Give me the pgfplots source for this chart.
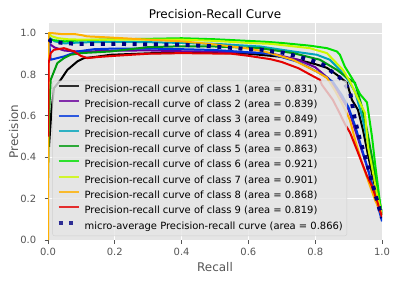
\documentclass[border=0pt]{standalone}
\usepackage{fontspec}
\setmainfont{DejaVu Sans}
\usepackage{pgfplots}
\pgfplotsset{compat=1.18}
\definecolor{bg}{HTML}{E5E5E5}
\definecolor{tickc}{HTML}{555555}
\definecolor{legedge}{HTML}{CCCCCC}
\definecolor{c1}{rgb}{0,0,0}
\definecolor{c2}{rgb}{0.415,0,0.615}
\definecolor{c3}{rgb}{0,0.207,0.8667}
\definecolor{c4}{rgb}{0,0.644,0.733}
\definecolor{c5}{rgb}{0,0.607,0.059}
\definecolor{c6}{rgb}{0,0.881,0}
\definecolor{c7}{rgb}{0.8,0.978,0}
\definecolor{c8}{rgb}{1,0.689,0}
\definecolor{c9}{rgb}{0.896,0,0}
\definecolor{navy}{rgb}{0,0,0.5}
\begin{document}
\begin{tikzpicture}
\path[use as bounding box] (-48bp,-41bp) rectangle (349bp,217.3bp+22.7bp);
\begin{axis}[
  at={(0,0)}, anchor=south west,
  scale only axis, width=334bp, height=217.3bp,
  xmin=0, xmax=1, ymin=0, ymax=1.05,
  axis background/.style={fill=bg},
  axis line style={draw=none},
  grid=major, major grid style={white, line width=0.8bp},
  xtick={0,0.2,0.4,0.6,0.8,1}, ytick={0,0.2,0.4,0.6,0.8,1},
  xtick pos=bottom, ytick pos=left, tick align=outside,
  major tick length=3.5bp, tick style={tickc, line width=0.8bp},
  ticklabel style={font=\fontsize{10}{12}\selectfont, text=tickc},
  xticklabel style={anchor=north, inner sep=0pt, yshift=-4.2bp},
  yticklabel style={anchor=east, inner sep=0pt, xshift=-8.1bp},
  /pgf/number format/fixed, /pgf/number format/fixed zerofill,
  /pgf/number format/precision=1, /pgf/number format/assume math mode=true,
  every axis title shift=0pt,
  title={Precision-Recall Curve},
  title style={font=\fontsize{12}{14}\selectfont, at={(axis description cs:0.5,1.0203)}, anchor=base, yshift=0pt, inner sep=0pt},
  xlabel={Recall}, ylabel={Precision},
  xlabel style={font=\fontsize{12}{14}\selectfont, text=tickc, at={(axis description cs:0.5,-0.145)}, anchor=base, inner sep=0pt},
  ylabel style={font=\fontsize{12}{14}\selectfont, text=tickc, at={(axis description cs:-0.0898,0.5)}, anchor=base, rotate=0, inner sep=0pt},
  no markers,
  every axis plot/.append style={line width=2bp, line join=round},
  legend cell align=left,
  legend image code/.code={\draw[#1] (0bp,4bp) -- (20bp,4bp);},
  legend style={at={(axis description cs:0.0132,0.0184)}, anchor=south west,
    font=\fontsize{10}{12}\selectfont, fill=bg, fill opacity=0.8, draw=legedge, draw opacity=0.8, text opacity=1,
    rounded corners=2bp, inner sep=4bp, row sep=5bp, column sep=4bp,
    nodes={inner sep=0pt, text height=7.6bp, text depth=2.5bp}},
]
\addplot[c1] coordinates {(0.003,0.45)(0.01,0.62)(0.018,0.734)(0.038,0.774)(0.058,0.822)(0.088,0.863)(0.108,0.879)(0.138,0.884)(0.188,0.895)(0.317,0.903)(0.5,0.905)(0.6,0.9)(0.7,0.885)(0.75,0.87)(0.8,0.85)(0.835,0.832)(0.865,0.798)(0.895,0.76)(0.91,0.677)(0.928,0.629)(0.943,0.532)(0.955,0.435)(0.97,0.32)(0.985,0.22)(1.0,0.13)};
\addlegendentry{Precision-recall curve of class 1 (area = 0.831)}
\addplot[c2] coordinates {(0.002,0.95)(0.02,0.93)(0.05,0.915)(0.1,0.91)(0.2,0.915)(0.3,0.916)(0.4,0.912)(0.5,0.91)(0.665,0.903)(0.75,0.87)(0.8,0.835)(0.84,0.78)(0.87,0.71)(0.9,0.63)(0.92,0.53)(0.94,0.43)(0.96,0.33)(0.98,0.21)(1.0,0.12)};
\addlegendentry{Precision-recall curve of class 2 (area = 0.839)}
\addplot[c3] coordinates {(0.001,1.0)(0.003,0.968)(0.008,0.871)(0.028,0.879)(0.048,0.887)(0.088,0.911)(0.138,0.922)(0.2,0.925)(0.3,0.925)(0.4,0.922)(0.5,0.918)(0.665,0.9)(0.75,0.86)(0.823,0.798)(0.853,0.764)(0.88,0.7)(0.9,0.64)(0.92,0.55)(0.94,0.44)(0.96,0.33)(0.98,0.21)(1.0,0.09)};
\addlegendentry{Precision-recall curve of class 3 (area = 0.849)}
\addplot[c4] coordinates {(0.002,0.98)(0.02,0.96)(0.05,0.95)(0.1,0.955)(0.2,0.958)(0.3,0.956)(0.4,0.952)(0.5,0.948)(0.635,0.935)(0.734,0.911)(0.805,0.895)(0.844,0.871)(0.874,0.822)(0.898,0.774)(0.919,0.717)(0.94,0.6)(0.96,0.45)(0.98,0.28)(1.0,0.12)};
\addlegendentry{Precision-recall curve of class 4 (area = 0.891)}
\addplot[c5] coordinates {(0,0.3)(0.003,0.6)(0.008,0.774)(0.028,0.855)(0.048,0.879)(0.068,0.895)(0.098,0.903)(0.188,0.911)(0.3,0.932)(0.4,0.936)(0.5,0.935)(0.635,0.927)(0.734,0.903)(0.814,0.871)(0.865,0.822)(0.895,0.784)(0.919,0.76)(0.94,0.643)(0.955,0.532)(0.97,0.4)(0.985,0.26)(1.0,0.12)};
\addlegendentry{Precision-recall curve of class 5 (area = 0.863)}
\addplot[c6] coordinates {(0.002,0.97)(0.02,0.965)(0.05,0.96)(0.1,0.965)(0.2,0.97)(0.3,0.972)(0.4,0.975)(0.5,0.97)(0.6,0.962)(0.65,0.958)(0.7,0.952)(0.784,0.939)(0.835,0.927)(0.865,0.911)(0.874,0.895)(0.889,0.837)(0.913,0.774)(0.934,0.705)(0.955,0.665)(0.97,0.5)(0.979,0.373)(0.994,0.179)(1.0,0.12)};
\addlegendentry{Precision-recall curve of class 6 (area = 0.921)}
\addplot[c7] coordinates {(0.002,1.0)(0.01,0.985)(0.03,0.975)(0.06,0.97)(0.1,0.968)(0.2,0.968)(0.3,0.968)(0.4,0.968)(0.5,0.962)(0.6,0.952)(0.665,0.948)(0.784,0.927)(0.835,0.903)(0.883,0.822)(0.904,0.766)(0.925,0.693)(0.949,0.614)(0.958,0.45)(0.97,0.353)(0.985,0.22)(1.0,0.12)};
\addlegendentry{Precision-recall curve of class 7 (area = 0.901)}
\addplot[c8] coordinates {(0,0)(0.002,1.0)(0.01,1.0)(0.04,0.995)(0.08,0.995)(0.1,0.99)(0.117,0.984)(0.19,0.978)(0.3,0.968)(0.4,0.96)(0.5,0.945)(0.6,0.925)(0.65,0.91)(0.733,0.871)(0.805,0.813)(0.835,0.784)(0.86,0.72)(0.88,0.66)(0.904,0.58)(0.92,0.48)(0.94,0.373)(0.96,0.28)(0.98,0.19)(1.0,0.12)};
\addlegendentry{Precision-recall curve of class 8 (area = 0.868)}
\addplot[c9] coordinates {(0,0.5)(0.002,0.855)(0.008,0.903)(0.018,0.919)(0.048,0.927)(0.078,0.911)(0.098,0.89)(0.118,0.879)(0.148,0.884)(0.2,0.89)(0.3,0.9)(0.4,0.903)(0.55,0.9)(0.6,0.89)(0.665,0.874)(0.7,0.86)(0.75,0.83)(0.784,0.8)(0.814,0.774)(0.82,0.75)(0.853,0.677)(0.874,0.61)(0.889,0.56)(0.904,0.52)(0.925,0.435)(0.943,0.36)(0.955,0.31)(0.97,0.26)(0.985,0.19)(1.0,0.11)};
\addlegendentry{Precision-recall curve of class 9 (area = 0.819)}
\addplot[navy, line width=4bp, line cap=butt, dash pattern=on 4bp off 6.6bp] coordinates {(0.002,0.97)(0.01,0.96)(0.03,0.955)(0.06,0.95)(0.1,0.948)(0.2,0.948)(0.3,0.945)(0.4,0.944)(0.5,0.935)(0.6,0.922)(0.644,0.919)(0.674,0.91)(0.704,0.905)(0.763,0.88)(0.793,0.866)(0.823,0.847)(0.85,0.813)(0.874,0.784)(0.904,0.72)(0.919,0.58)(0.934,0.484)(0.955,0.373)(0.979,0.227)(1.0,0.106)};
\addlegendentry{micro-average Precision-recall curve (area = 0.866)}
\end{axis}
\end{tikzpicture}
\end{document}
